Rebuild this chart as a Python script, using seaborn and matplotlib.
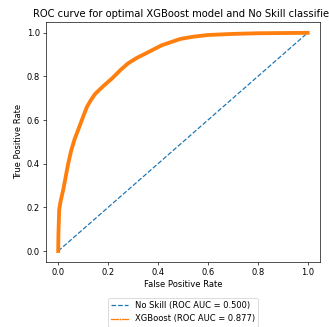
import matplotlib
matplotlib.use("Agg")
import matplotlib.pyplot as plt
import seaborn as sns
import pandas as pd

# No Skill classifier
ns_fpr = [0.0, 1.0]
ns_tpr = [0.0, 1.0]

# XGBoost ROC curve
xgb_fpr = [0.0, 0.001, 0.004, 0.010, 0.020, 0.030, 0.040, 0.052, 0.065, 0.080,
           0.098, 0.115, 0.130, 0.148, 0.180, 0.215, 0.250, 0.280, 0.315, 0.350,
           0.415, 0.490, 0.540, 0.600, 0.700, 0.800, 0.900, 1.0]
xgb_tpr = [0.0, 0.08, 0.19, 0.23, 0.28, 0.34, 0.40, 0.46, 0.51, 0.555,
           0.61, 0.66, 0.69, 0.72, 0.755, 0.79, 0.83, 0.86, 0.885, 0.905,
           0.943, 0.972, 0.982, 0.990, 0.995, 0.998, 0.999, 1.0]

ns_label = "No Skill (ROC AUC = 0.500)"
xgb_label = "XGBoost (ROC AUC = 0.877)"

title = "ROC curve for optimal XGBoost model and No Skill classifier"
xlabel = "False Positive Rate"
ylabel = "True Positive Rate"

ns_df = pd.DataFrame({"fpr": ns_fpr, "tpr": ns_tpr})
xgb_df = pd.DataFrame({"fpr": xgb_fpr, "tpr": xgb_tpr})

DPI = 60
fig = plt.figure(figsize=(329 / DPI, 327 / DPI), dpi=DPI)
ax = fig.add_axes([0.139, 0.199, 0.834, 0.734])

sns.lineplot(data=ns_df, x="fpr", y="tpr", ax=ax, color="C0",
             linestyle="--", label=ns_label, sort=False)
sns.lineplot(data=xgb_df, x="fpr", y="tpr", ax=ax, color="C1",
             linewidth=4.6, label=xgb_label, sort=False)

ax.set_title(title)
ax.set_xlabel(xlabel)
ax.set_ylabel(ylabel)
ax.set_xlim(-0.05, 1.05)
ax.set_ylim(-0.05, 1.05)
ax.set_xticks([0.0, 0.2, 0.4, 0.6, 0.8, 1.0])
ax.set_yticks([0.0, 0.2, 0.4, 0.6, 0.8, 1.0])

leg = ax.legend(loc="upper center", bbox_to_anchor=(0.5, -0.15), borderaxespad=0)
lines = leg.get_lines()
lines[1].set_linewidth(1.5)
lines[1].set_marker(".")

fig.savefig("out.png", dpi=DPI)
